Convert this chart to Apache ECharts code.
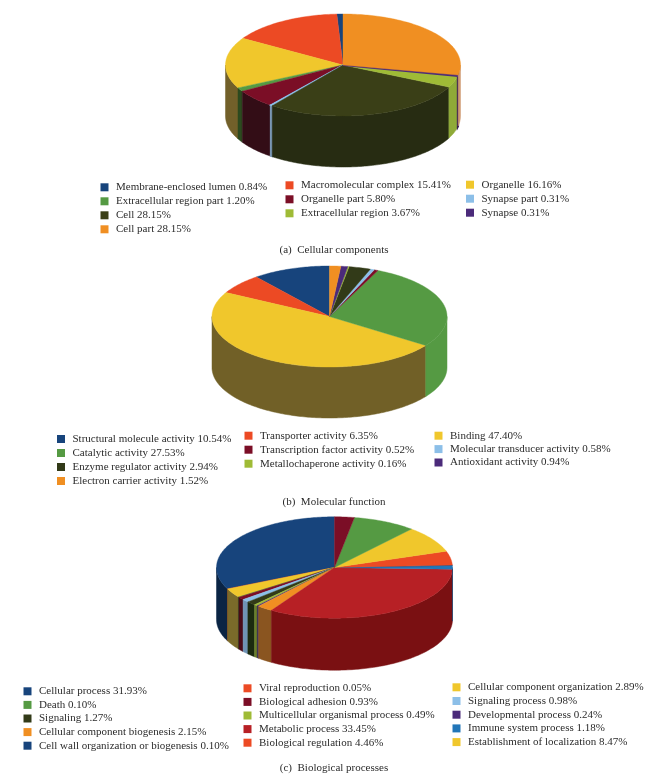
<!DOCTYPE html>
<html>
<head>
<meta charset="utf-8">
<style>html,body{margin:0;padding:0;background:#fff}#c{width:670px;height:781px}</style>
<script src="https://cdn.jsdelivr.net/npm/echarts@6/dist/echarts.min.js"></script>
</head>
<body>
<div id="c"></div>
<script>
// Slices in drawing order (anticlockwise from 12 o'clock)
const labelsA = ['Membrane-enclosed lumen','Macromolecular complex','Organelle','Extracellular region part','Organelle part','Synapse part','Cell','Extracellular region','Synapse','Cell part'];
const valuesA = [0.84,15.41,16.16,1.20,5.80,0.31,28.15,3.67,0.31,28.15];
const labelsB = ['Structural molecule activity','Transporter activity','Binding','Catalytic activity','Transcription factor activity','Molecular transducer activity','Enzyme regulator activity','Metallochaperone activity','Antioxidant activity','Electron carrier activity'];
const valuesB = [10.54,6.35,47.40,27.53,0.52,0.58,2.94,0.16,0.94,1.52];
const labelsC = ['Cellular process','Viral reproduction','Cellular component organization','Death','Biological adhesion','Signaling process','Signaling','Multicellular organismal process','Developmental process','Cellular component biogenesis','Metabolic process','Immune system process','Cell wall organization or biogenesis','Biological regulation','Establishment of localization','Unlabelled green','Unlabelled dark red'];
const valuesC = [31.93,0.05,2.89,0.10,0.93,0.98,1.27,0.49,0.24,2.15,33.45,1.18,0.10,4.46,8.47,8.61,2.70];
const captions = ['(a)  Cellular components','(b)  Molecular function','(c)  Biological processes'];

// Colours, slice by slice
const topA = ['#17447c','#ec4a24','#f0c72c','#559a43','#7b0e26','#8cbfe8','#3a3f17','#9fbb36','#4b2a7a','#f08f22'];
const wallA = ['#0b2240','#8a2c14','#72602a','#2c4a1f','#330d16','#7a97b5','#272c12','#8faa38','#3a2050','#cf9a72'];
const topB = ['#17447c','#ec4a24','#f0c72c','#559a43','#7b0e26','#8cbfe8','#323a18','#9fbb36','#4b2a7a','#f08f22'];
const wallB = ['#0b2240','#8a2c14','#716027','#559a43','#330d16','#7a97b5','#272c12','#8faa38','#2a1a4a','#c06a20'];
const topC = ['#17447c','#ec4a24','#f0c72c','#559a43','#7b0e26','#8cbfe8','#323a18','#9fbb36','#4b2a7a','#f08f22','#b72025','#2276b8','#17447c','#ec4a24','#f0c72c','#559a43','#7b0e26'];
const wallC = ['#0a2444','#8a2c14','#7a6a2a','#2c4a1f','#4a0a18','#6f93b5','#1c2a0f','#6b7f2a','#2a1a4a','#8a5520','#7a1012','#144a78','#0b2240','#8a2c14','#72602a','#2c4a1f','#330d16'];

const pies = [
  {labels: labelsA, values: valuesA, top: topA, wall: wallA, cx: 343, cy: 65, rx: 117.5, ry: 51, depth: 51, unlabelled: 0, thick: {5: 1.2, 8: 1.8}},
  {labels: labelsB, values: valuesB, top: topB, wall: wallB, cx: 329.5, cy: 316.5, rx: 117.5, ry: 50.5, depth: 51, unlabelled: 0, thick: {}},
  {labels: labelsC, values: valuesC, top: topC, wall: wallC, cx: 334.5, cy: 567.5, rx: 118, ry: 50.7, depth: 52, unlabelled: 2, thick: {}}
];

// Legend columns: which slice index goes in which column, and where
const legendColumns = [
  [{items:[0,3,6,9], x:100.5, y:187.3, step:14},
   {items:[1,4,7], x:285.5, y:185.3, step:14},
   {items:[2,5,8], x:466, y:184.7, step:14}],
  [{items:[0,3,6,9], x:57, y:439, step:14},
   {items:[1,4,7], x:244.5, y:435.7, step:14},
   {items:[2,5,8], x:434.5, y:435.7, step:13.4}],
  [{items:[0,3,6,9,12], x:23.5, y:691.3, step:13.6},
   {items:[1,4,7,10,13], x:243.5, y:688.3, step:13.6},
   {items:[2,5,8,11,14], x:452.5, y:687.3, step:13.7}]
];
const captionY = [250, 502.3, 767.7];

const FONT = '"Liberation Serif"';
const FS = 11, LH = 12;
const nameOf = (p, i) => i < p.labels.length - p.unlabelled ? p.labels[i] + ' ' + p.values[i].toFixed(2) + '%' : p.labels[i];

function arc(p, a0, a1, dy) {
  const n = Math.max(2, Math.ceil(Math.abs(a1 - a0) / (Math.PI / 180)) + 1), pts = [];
  for (let k = 0; k < n; k++) {
    const a = a0 + (a1 - a0) * k / (n - 1);
    pts.push([p.cx - p.rx * Math.sin(a), p.cy - p.ry * Math.cos(a) + dy]);
  }
  return pts;
}

const series = [], legends = [], titles = [];
pies.forEach((p, pi) => {
  const total = p.values.reduce((s, v) => s + v, 0);
  let cum = 0;
  p.values.forEach((v, i) => {
    const start = cum;
    cum += v;
    series.push({
      type: 'custom',
      name: nameOf(p, i),
      coordinateSystem: 'none',
      silent: true,
      animation: false,
      itemStyle: {color: p.top[i]},
      data: [[v]],
      renderItem: function (params, api) {
        const a0 = start / total * 2 * Math.PI;
        const a1 = (start + api.value(0)) / total * 2 * Math.PI;
        const children = [];
        const w0 = Math.max(a0, Math.PI / 2), w1 = Math.min(a1, Math.PI * 1.5);
        if (w1 > w0) {
          const pts = arc(p, w0, w1, 0).concat(arc(p, w1, w0, p.depth));
          children.push({type: 'polygon', shape: {points: pts},
            style: {fill: p.wall[i], stroke: p.wall[i], lineWidth: p.thick[i] || 0.5}});
        }
        children.push({type: 'polygon', shape: {points: [[p.cx, p.cy]].concat(arc(p, a0, a1, 0))},
          style: {fill: p.top[i], stroke: p.top[i], lineWidth: p.thick[i] || 0.4}});
        return {type: 'group', children: children};
      }
    });
  });
  legendColumns[pi].forEach(col => {
    legends.push({
      orient: 'vertical', left: col.x, top: col.y - LH / 2, padding: 0,
      itemWidth: 8, itemHeight: 8, itemGap: col.step - LH, icon: 'rect',
      selectedMode: false, align: 'left',
      textStyle: {fontFamily: FONT, fontSize: FS, color: '#2b2b2b', lineHeight: LH, padding: [0, 0, 0, 2.5]},
      data: col.items.map(i => nameOf(p, i))
    });
  });
  titles.push({
    text: captions[pi], left: 334, top: captionY[pi] - 6, padding: 0, textAlign: 'center',
    textStyle: {fontFamily: FONT, fontSize: FS, fontWeight: 'normal', color: '#2b2b2b', lineHeight: LH}
  });
});

const chart = echarts.init(document.getElementById('c'), null, {renderer: 'canvas'});
chart.setOption({animation: false, backgroundColor: '#fff', title: titles, legend: legends, series: series, tooltip: {show: false}});
</script>
</body>
</html>
